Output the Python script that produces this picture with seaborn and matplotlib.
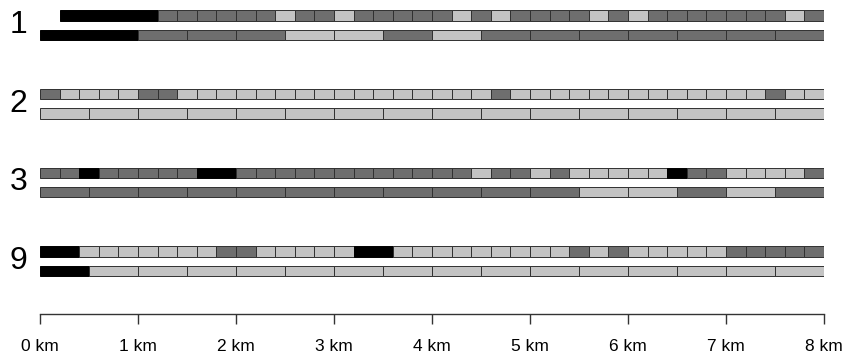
import numpy as np
import pandas as pd
import matplotlib.pyplot as plt
import seaborn as sns

# segment classes: K = black, D = dark grey, L = light grey, - = no data
groups = ['1', '2', '3', '9']

# fine rows, 0.2 km per segment
fine_1 = "-KKKKKDDDDDDLDDLDDDDDLDLDDDDLDLDDDDDDDLD"
fine_2 = "DLLLLDD" + "L" * 16 + "D" + "L" * 13 + "D" + "LL"
fine_3 = "DDKDDDDDKKDDDDDDDDDDDDLDDLDLLLLLKDDLLLLD"
fine_9 = "KKLLLLLLLDDLLLLLKKLLLLLLLLLDLDLLLLLDDDDD"

# coarse rows, 0.5 km per segment
coarse_1 = "KKDDDLLDLDDDDDDD"
coarse_2 = "L" * 16
coarse_3 = "DDDDDDDDDDDLLDLD"
coarse_9 = "K" + "L" * 15

fine_rows = [fine_1, fine_2, fine_3, fine_9]
coarse_rows = [coarse_1, coarse_2, coarse_3, coarse_9]

km_ticks = np.arange(0, 9)
km_labels = [f"{k} km" for k in km_ticks]

colors = {'K': '#000000', 'D': '#6e6e6e', 'L': '#c3c3c3'}
edges = {'K': '#000000', 'D': '#303030', 'L': '#303030'}

# build long table of segments
records = []
for g, (fine, coarse) in enumerate(zip(fine_rows, coarse_rows)):
    for i, c in enumerate(fine):
        if c != '-':
            records.append({'group': g, 'row': 'fine', 'start': i * 0.2, 'len': 0.2, 'cls': c})
    for i, c in enumerate(coarse):
        records.append({'group': g, 'row': 'coarse', 'start': i * 0.5, 'len': 0.5, 'cls': c})
df = pd.DataFrame(records)

sns.set_style("white")
plt.rcParams['font.family'] = ['Liberation Sans', 'DejaVu Sans']

fig = plt.figure(figsize=(8.43, 3.61), dpi=100)
ax = fig.add_axes([40 / 843, 47 / 361, 784 / 843, 314 / 361])

# layout in pixel-like units on y
group_gap = 78.7
first_center = 25.0
row_offset = 9.7
bar_h = 10.4

df['y'] = first_center + df['group'] * group_gap + np.where(df['row'] == 'fine', -row_offset, row_offset)

ax.barh(df['y'], df['len'], left=df['start'], height=bar_h,
        color=df['cls'].map(colors), edgecolor=df['cls'].map(edges), linewidth=0.7)

for g, name in enumerate(groups):
    ax.text(-0.22, first_center + g * group_gap, name, ha='center', va='center',
            fontsize=23, color='black', clip_on=False)

ax.set_xlim(0, 8)
ax.set_ylim(314, 0)
sns.despine(ax=ax, left=True, top=True, right=True)
ax.spines['bottom'].set_color('#333333')
ax.spines['bottom'].set_linewidth(1.0)
ax.set_xticks(km_ticks)
ax.set_xticklabels(km_labels, fontsize=12.5, color='black')
ax.tick_params(axis='x', direction='out', length=7.2, width=1.0, color='#333333', pad=11,
               bottom=True)
ax.set_yticks([])

fig.savefig('out.png', dpi=100)
